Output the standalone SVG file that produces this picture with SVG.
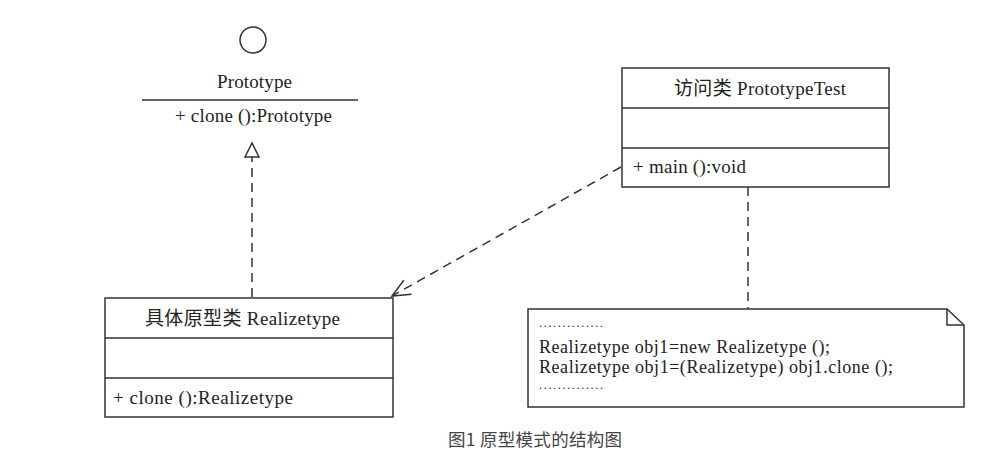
<svg xmlns="http://www.w3.org/2000/svg" width="995" height="468" viewBox="0 0 995 468">
<defs>
<style>
.t{font-family:"Liberation Serif","Noto Sans CJK SC",serif;font-size:19px;fill:#222}
.n{font-family:"Liberation Serif",serif;font-size:18px;fill:#222}
.d{font-family:"Liberation Serif",serif;font-size:12px;fill:#222}
.box{fill:#fff;stroke:#333;stroke-width:1.5}
.ln{stroke:#333;stroke-width:1.5;fill:none}
.dash{stroke:#333;stroke-width:1.5;fill:none;stroke-dasharray:9,6}
.cap{font-family:"Noto Sans CJK SC","Liberation Sans",sans-serif;font-size:17.5px;fill:#444}
</style>
<marker id="tri" markerWidth="18" markerHeight="18" refX="14" refY="7" orient="auto" markerUnits="userSpaceOnUse" viewBox="-2 -2 18 18">
<path d="M14,7 L0,0 L0,14 Z" fill="#fff" stroke="#333" stroke-width="1.5"/>
</marker>
<marker id="open" markerWidth="24" markerHeight="24" refX="20" refY="10" orient="auto" markerUnits="userSpaceOnUse" viewBox="0 0 24 20">
<path d="M2,2 L20,10 L2,18" fill="none" stroke="#333" stroke-width="1.5"/>
</marker>
</defs>
<rect width="995" height="468" fill="#fff"/>
<g id="prototype">
<circle cx="253" cy="40" r="13" class="ln"/>
<text class="t" x="217" y="88" textLength="75">Prototype</text>
<line x1="142" y1="100" x2="358" y2="100" class="ln"/>
<text class="t" x="175" y="122" textLength="157">+ clone ():Prototype</text>
</g>
<g id="prototypeTest">
<rect x="622" y="68" width="267" height="119" class="box"/>
<line x1="622" y1="108" x2="889" y2="108" class="ln"/>
<line x1="622" y1="148" x2="889" y2="148" class="ln"/>
<text class="t" x="674" y="95" textLength="172">访问类  PrototypeTest</text>
<text class="t" x="633" y="173" textLength="113">+ main ():void</text>
</g>
<g id="realizetype">
<rect x="105" y="298" width="288" height="119" class="box"/>
<line x1="105" y1="338" x2="393" y2="338" class="ln"/>
<line x1="105" y1="378" x2="393" y2="378" class="ln"/>
<text class="t" x="145" y="325" textLength="195">具体原型类  Realizetype</text>
<text class="t" x="113" y="404" textLength="180">+ clone ():Realizetype</text>
</g>
<g id="note">
<path d="M528,309 L947,309 L964,325 L964,407 L528,407 Z" class="box"/>
<path d="M947,309 L947,325 L964,325" class="ln"/>
<text class="d" x="539" y="327" textLength="64">..............</text>
<text class="n" x="539" y="353" textLength="291">Realizetype obj1=new Realizetype ();</text>
<text class="n" x="539" y="373" textLength="354">Realizetype obj1=(Realizetype) obj1.clone ();</text>
<text class="d" x="539" y="389" textLength="64">..............</text>
</g>
<g id="connectors">
<line x1="252" y1="297" x2="252" y2="143" class="dash" marker-end="url(#tri)"/>
<line x1="621" y1="167" x2="392" y2="296" class="dash" marker-end="url(#open)"/>
<line x1="748" y1="187" x2="748" y2="309" class="dash"/>
</g>
<text class="cap" x="448" y="446" textLength="174">图1 原型模式的结构图</text>
</svg>
